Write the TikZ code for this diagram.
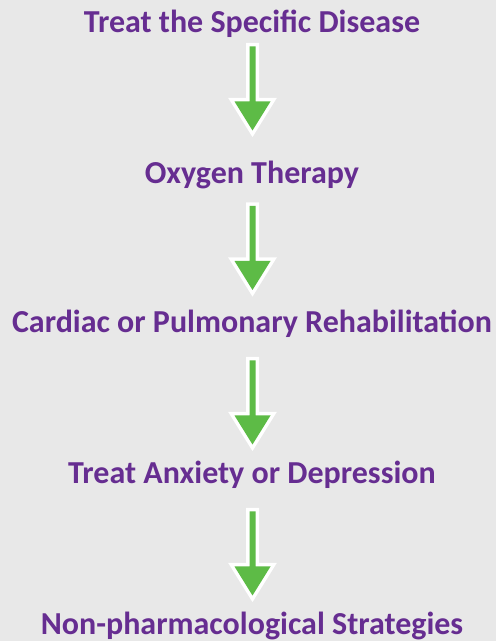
\documentclass[tikz,border=0pt]{standalone}
\usepackage{fontspec}
\setmainfont{Carlito}
\definecolor{bg}{HTML}{E8E8E8}
\definecolor{purp}{HTML}{662D91}
\definecolor{grn}{HTML}{5DBB46}
\begin{document}
\begin{tikzpicture}[x=1pt,y=1pt,
  lbl/.style={text=purp,font=\bfseries\fontsize{32}{34}\selectfont,anchor=base,inner sep=0pt},
  garrow/.pic={
    \path[draw=white,fill=white,line width=7pt,miter limit=10]
      (-3,0) -- (-3,-55) -- (-18,-55) -- (0,-84) -- (18,-55) -- (3,-55) -- (3,0) -- cycle;
    \fill[grn]
      (-3,0) -- (-3,-55) -- (-18,-55) -- (0,-84) -- (18,-55) -- (3,-55) -- (3,0) -- cycle;
  }]
\fill[bg] (0,0) rectangle (496,641);
\useasboundingbox (0,0) rectangle (496,641);
\node[lbl] (t1) at (252,608) {Treat the Specific Disease};
\node[lbl] (t2) at (252,457) {Oxygen Therapy};
\node[lbl] (t3) at (252,308) {Cardiac or Pulmonary Rehabilitation};
\node[lbl] (t4) at (252,157) {Treat Anxiety or Depression};
\node[lbl] (t5) at (252,6.5) {Non-pharmacological Strategies};
\pic (a1) at (252.5,594.5) {garrow};
\pic (a2) at (252.5,435) {garrow};
\pic (a3) at (252.5,280.5) {garrow};
\pic (a4) at (252.5,129.5) {garrow};
\end{tikzpicture}
\end{document}
